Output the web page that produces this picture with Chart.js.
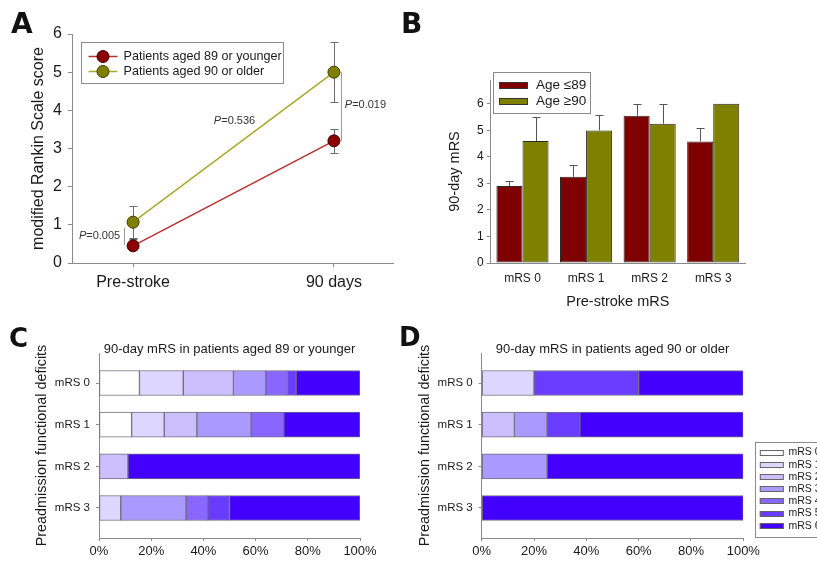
<!DOCTYPE html>
<html><head><meta charset="utf-8">
<script src="https://cdn.jsdelivr.net/npm/chart.js@4.4.1/dist/chart.umd.min.js"></script>
<style>
body{margin:0;background:#fff;width:817px;height:564px;overflow:hidden;position:relative;}
canvas{position:absolute;}
.lab{position:absolute;font-family:'DejaVu Sans',sans-serif;font-weight:bold;color:#111;}
</style></head><body>
<canvas id="cA" width="400" height="310" style="left:0;top:0"></canvas>
<canvas id="cB" width="417" height="320" style="left:400px;top:0"></canvas>
<canvas id="cC" width="400" height="244" style="left:0;top:320px"></canvas>
<canvas id="cD" width="417" height="244" style="left:400px;top:320px"></canvas>
<div class="lab" style="left:11px;top:10px;font-size:28px;line-height:28px">A</div>
<div class="lab" style="left:401px;top:10px;font-size:28px;line-height:28px">B</div>
<div class="lab" style="left:9px;top:325px;font-size:26px;line-height:26px">C</div>
<div class="lab" style="left:399px;top:324px;font-size:26px;line-height:26px">D</div>
<script>
const FONT = "'Liberation Sans', Arial, Helvetica, sans-serif";
Chart.defaults.font.family = FONT;
Chart.defaults.color = '#1a1a1a';

// ---- Panel A data ----
const timeLabels = ['Pre-stroke', '90 days'];
const groupNames = ['Patients aged 89 or younger', 'Patients aged 90 or older'];
const youngMean = [0.45, 3.2];
const youngLow = [0.33, 2.87];
const youngHigh = [0.62, 3.52];
const oldMean = [1.07, 5.0];
const oldLow = [0.65, 4.22];
const oldHigh = [1.49, 5.8];
const pLabels = ['0.005', '0.536', '0.019'];

// ---- Panel B data ----
const preLabels = ['mRS 0', 'mRS 1', 'mRS 2', 'mRS 3'];
const ageNames = ['Age \u226489', 'Age \u226590'];
const bYoung = [2.9, 3.25, 5.55, 4.58];
const bYoungErr = [3.08, 3.7, 6.0, 5.08];
const bOld = [4.6, 5.0, 5.25, 6.0];
const bOldErr = [5.52, 5.57, 6.0, null];

// ---- Panels C / D data (percent, one array per 90-day outcome, across pre-stroke mRS) ----
const outcomeLabels = ['mRS 0', 'mRS 1', 'mRS 2', 'mRS 3', 'mRS 4', 'mRS 5', 'mRS 6'];
const youngPct = [
  [15.5, 12.5, 0, 0],
  [16.8, 12.5, 0, 8.33],
  [19.2, 12.5, 11.1, 0],
  [12.4, 20.8, 0, 25],
  [8.3, 12.5, 0, 8.33],
  [3.3, 0, 0, 8.34],
  [24.5, 29.2, 88.9, 50]
];
const oldPct = [
  [0, 0, 0, 0],
  [20, 0, 0, 0],
  [0, 12.5, 0, 0],
  [0, 12.5, 25, 0],
  [0, 0, 0, 0],
  [40, 12.5, 0, 0],
  [40, 62.5, 75, 100]
];
const titleC = '90-day mRS in patients aged 89 or younger';
const titleD = '90-day mRS in patients aged 90 or older';

// ---- styles ----
const AX = '#8a8a8a';
const outcomeColors = ['#ffffff', '#ddd6ff', '#cbbfff', '#aa99ff', '#8866ff', '#6a3cff', '#4400ff'];
function axisGrid(tl) { return {display: true, drawOnChartArea: false, drawTicks: true, tickLength: tl, color: AX, lineWidth: 1, offset: false}; }
const border = {display: true, color: AX, width: 1};

function drawP(ctx, px, py, val, align) {
  const fi = 'italic 11px ' + FONT, fn = '11px ' + FONT;
  ctx.font = fi; const w1 = ctx.measureText('P').width;
  const rest = '=' + val;
  ctx.font = fn; const w2 = ctx.measureText(rest).width;
  const x0 = align === 'right' ? px - w1 - w2 : align === 'center' ? px - (w1 + w2) / 2 : px;
  ctx.textBaseline = 'middle'; ctx.textAlign = 'left'; ctx.fillStyle = '#333';
  ctx.font = fi; ctx.fillText('P', x0, py);
  ctx.font = fn; ctx.fillText(rest, x0 + w1, py);
}

const pNotes = {
  id: 'pNotes',
  afterDatasetsDraw(chart, args, opts) {
    const {ctx, scales: {x, y}} = chart;
    ctx.save();
    (opts.items || []).forEach(it => {
      if (it.bracket) {
        ctx.strokeStyle = '#9a9a9a'; ctx.lineWidth = 1;
        const bx = Math.round(x.getPixelForValue(it.bracket.x)) + 0.5;
        ctx.beginPath();
        ctx.moveTo(bx, y.getPixelForValue(it.bracket.y0));
        ctx.lineTo(bx, y.getPixelForValue(it.bracket.y1));
        ctx.stroke();
      }
      drawP(ctx, x.getPixelForValue(it.x), y.getPixelForValue(it.y), it.text, it.align);
    });
    ctx.restore();
  }
};

const ptErr = {
  id: 'ptErr',
  beforeDatasetsDraw(chart) {
    const {ctx, scales: {x, y}} = chart;
    ctx.save(); ctx.strokeStyle = '#6e6e6e'; ctx.lineWidth = 1;
    chart.data.datasets.forEach(ds => {
      ds.data.forEach((p, i) => {
        const px = Math.round(x.getPixelForValue(p.x)) + 0.5;
        const y0 = Math.round(y.getPixelForValue(ds.errLow[i])) + 0.5;
        const y1 = Math.round(y.getPixelForValue(ds.errHigh[i])) + 0.5;
        ctx.beginPath();
        ctx.moveTo(px, y0); ctx.lineTo(px, y1);
        ctx.moveTo(px - 4, y0); ctx.lineTo(px + 4, y0);
        ctx.moveTo(px - 4, y1); ctx.lineTo(px + 4, y1);
        ctx.stroke();
      });
    });
    ctx.restore();
  }
};

const barErr = {
  id: 'barErr',
  afterDatasetsDraw(chart) {
    const {ctx, scales: {y}} = chart;
    ctx.save(); ctx.strokeStyle = '#555'; ctx.lineWidth = 1;
    chart.data.datasets.forEach((ds, di) => {
      chart.getDatasetMeta(di).data.forEach((bar, i) => {
        const hi = ds.errHigh[i];
        if (hi == null || hi <= ds.data[i]) return;
        const x = Math.round(bar.x) + 0.5;
        const yt = Math.round(y.getPixelForValue(hi)) + 0.5;
        ctx.beginPath();
        ctx.moveTo(x, bar.y); ctx.lineTo(x, yt);
        ctx.moveTo(x - 4, yt); ctx.lineTo(x + 4, yt);
        ctx.stroke();
      });
    });
    ctx.restore();
  }
};

const boxLegend = {
  id: 'boxLegend',
  afterDraw(chart, args, o) {
    if (!o || !o.kind) return;
    const {ctx, chartArea: ca} = chart;
    ctx.save();
    const L = Math.round(ca.left + o.dx) + 0.5, T = Math.round(ca.top + o.dy) + 0.5;
    ctx.strokeStyle = '#8a8a8a'; ctx.lineWidth = 1;
    ctx.strokeRect(L, T, o.w, o.h);
    chart.data.datasets.forEach((ds, i) => {
      const cy = T + o.firstRow + i * o.rowH;
      if (o.kind === 'line') {
        ctx.strokeStyle = ds.borderColor; ctx.lineWidth = 1.5;
        ctx.beginPath(); ctx.moveTo(L + o.sx0, cy); ctx.lineTo(L + o.sx1, cy); ctx.stroke();
        ctx.beginPath(); ctx.arc(L + (o.sx0 + o.sx1) / 2, cy, 6, 0, Math.PI * 2);
        ctx.fillStyle = ds.pointBackgroundColor; ctx.fill();
        ctx.strokeStyle = ds.pointBorderColor; ctx.lineWidth = 1; ctx.stroke();
      } else {
        ctx.fillStyle = ds.backgroundColor;
        ctx.fillRect(L + o.sx0, Math.round(cy - o.sh / 2), o.sx1 - o.sx0, o.sh);
        ctx.strokeStyle = o.swBorder; ctx.lineWidth = 1;
        ctx.strokeRect(L + o.sx0 + 0.5, Math.round(cy - o.sh / 2) + 0.5, o.sx1 - o.sx0 - 1, o.sh - 1);
      }
      ctx.font = o.fontSize + 'px ' + FONT;
      ctx.textBaseline = 'middle'; ctx.textAlign = 'left'; ctx.fillStyle = '#1a1a1a';
      ctx.fillText(ds.label, L + o.tx, cy);
    });
    ctx.restore();
  }
};

const base = {responsive: false, animation: false, events: []};

// ---- Panel A ----
new Chart(document.getElementById('cA'), {
  type: 'line',
  data: {datasets: [
    {label: groupNames[0], data: youngMean.map((v, i) => ({x: i, y: v})), errLow: youngLow, errHigh: youngHigh,
     borderColor: '#bb2e2e', borderWidth: 1.5, pointBackgroundColor: '#8b0000', pointBorderColor: '#3d0000',
     pointRadius: 6, pointBorderWidth: 1, fill: false, tension: 0},
    {label: groupNames[1], data: oldMean.map((v, i) => ({x: i, y: v})), errLow: oldLow, errHigh: oldHigh,
     borderColor: '#a8a82a', borderWidth: 1.5, pointBackgroundColor: '#808000', pointBorderColor: '#3d3d00',
     pointRadius: 6, pointBorderWidth: 1, fill: false, tension: 0}
  ]},
  options: Object.assign({}, base, {
    layout: {padding: {top: 34, right: 2, left: 0, bottom: 0}},
    plugins: {
      legend: {display: false}, tooltip: {enabled: false},
      boxLegend: {kind: 'line', dx: 9, dy: 8, w: 202, h: 41, firstRow: 14, rowH: 15, sx0: 7, sx1: 36, tx: 42, fontSize: 12.6},
      pNotes: {items: [
        {text: pLabels[0], x: -0.064, y: 0.71, align: 'right', bracket: {x: -0.044, y0: 0.47, y1: 0.92}},
        {text: pLabels[1], x: 0.505, y: 3.72, align: 'center'},
        {text: pLabels[2], x: 1.054, y: 4.14, align: 'left', bracket: {x: 1.034, y0: 3.2, y1: 5.0}}
      ]}
    },
    scales: {
      x: {type: 'linear', min: -0.304, max: 1.294,
          afterBuildTicks: s => { s.ticks = timeLabels.map((_, i) => ({value: i})); },
          ticks: {callback: v => timeLabels[v], font: {size: 16}, padding: 6},
          grid: axisGrid(4), border: border,
          afterFit: s => { s.height = 310 - 263; }},
      y: {type: 'linear', min: 0, max: 6,
          ticks: {stepSize: 1, font: {size: 16}, padding: 6},
          grid: axisGrid(4), border: border,
          title: {display: true, text: 'modified Rankin Scale score', font: {size: 16}, padding: {top: 29.4, bottom: 0}},
          afterFit: s => { s.width = 72; }}
    }
  }),
  plugins: [ptErr, pNotes, boxLegend]
});

// ---- Panel B ----
new Chart(document.getElementById('cB'), {
  type: 'bar',
  data: {labels: preLabels, datasets: [
    {label: ageNames[0], data: bYoung, errHigh: bYoungErr, backgroundColor: '#7f0000', borderColor: '#2a2a2a', borderWidth: 1, borderSkipped: false},
    {label: ageNames[1], data: bOld, errHigh: bOldErr, backgroundColor: '#808000', borderColor: '#2a2a2a', borderWidth: 1, borderSkipped: false}
  ]},
  options: Object.assign({}, base, {
    layout: {padding: {top: 80, right: 72, left: 0, bottom: 0}},
    datasets: {bar: {categoryPercentage: 0.82, barPercentage: 1}},
    plugins: {
      legend: {display: false}, tooltip: {enabled: false},
      boxLegend: {kind: 'rect', dx: 2, dy: -8, w: 97, h: 41, firstRow: 13, rowH: 15.5, sx0: 5.5, sx1: 34.5, sh: 7, swBorder: '#333', tx: 42.5, fontSize: 13.5}
    },
    scales: {
      x: {grid: {display: false, drawTicks: false, tickLength: 0}, border: border,
          ticks: {font: {size: 12}, padding: 8},
          title: {display: true, text: 'Pre-stroke mRS', font: {size: 14.5}, padding: {top: 0, bottom: 9.6}},
          afterFit: s => { s.height = 320 - 263; }},
      y: {min: 0, max: 6.9, ticks: {stepSize: 1, includeBounds: false, font: {size: 12}, padding: 3},
          grid: axisGrid(4), border: border,
          title: {display: true, text: '90-day mRS', font: {size: 14.5}, padding: {top: 46.3, bottom: 0}},
          afterFit: s => { s.width = 90.7; }}
    }
  }),
  plugins: [barErr, boxLegend]
});

// ---- Panels C and D ----
function stacked(id, pct, title, yTitlePad, yWidth, padRight, legend) {
  return new Chart(document.getElementById(id), {
    type: 'bar',
    data: {datasets: outcomeLabels.map((lab, k) => ({
      label: lab, data: pct[k].map((v, i) => ({x: v, y: i})),
      backgroundColor: outcomeColors[k], borderColor: '#6f6f80', borderWidth: 1, borderSkipped: false, barThickness: 25
    }))},
    options: Object.assign({}, base, {
      indexAxis: 'y',
      layout: {padding: {top: 0, right: padRight, left: 0, bottom: 0}},
      plugins: {
        legend: {display: false}, tooltip: {enabled: false},
        title: {display: true, text: title, fullSize: false, color: '#1a1a1a', font: {size: 13, weight: 'normal'}, padding: {top: 21.7, bottom: -4.3}},
        boxLegend: legend || {}
      },
      scales: {
        x: {type: 'linear', stacked: true, min: 0, max: 100,
            ticks: {stepSize: 20, callback: v => v + '%', font: {size: 13}, padding: 3},
            grid: axisGrid(3), border: border,
            afterFit: s => { s.height = 244 - 218; }},
        y: {type: 'linear', stacked: true, reverse: true, min: -0.72, max: 3.72, offset: false,
            afterBuildTicks: s => { s.ticks = preLabels.map((_, i) => ({value: i})); },
            ticks: {callback: v => preLabels[v], font: {size: 11.5}, padding: 6},
            grid: axisGrid(3), border: border,
            title: {display: true, text: 'Preadmission functional deficits', font: {size: 14.4}, padding: {top: yTitlePad, bottom: 0}},
            afterFit: s => { s.width = yWidth; }}
      }
    }),
    plugins: [boxLegend]
  });
}
stacked('cC', youngPct, titleC, 33.4, 99, 40, null);
stacked('cD', oldPct, titleD, 16.4, 81.7, 73.7,
  {kind: 'rect', dx: 273.3, dy: 88.7, w: 100, h: 95, firstRow: 10, rowH: 12.2, sx0: 4.3, sx1: 28.3, sh: 6, swBorder: '#666', tx: 33, fontSize: 10.5});
</script>
</body></html>
